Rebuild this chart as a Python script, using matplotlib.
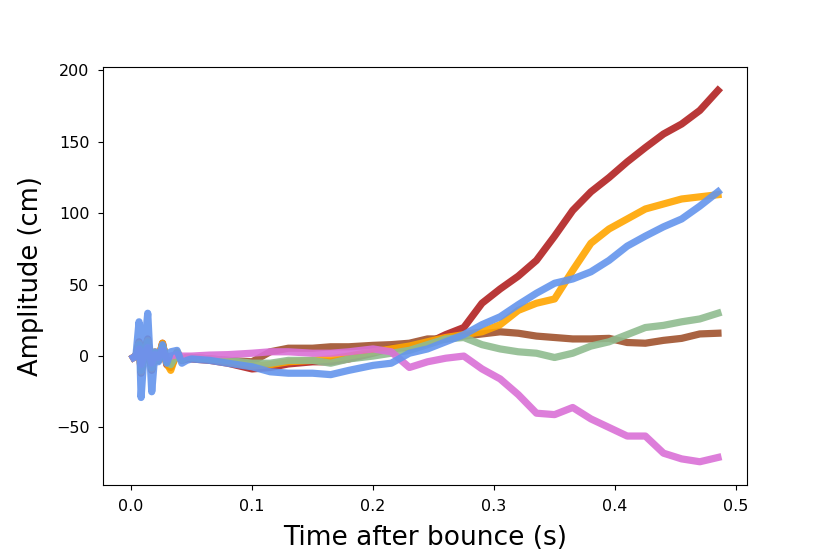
import numpy as np
import matplotlib
matplotlib.use("Agg")
import matplotlib.pyplot as plt

# time grid (s) shared by all runs
t = [0.002, 0.004, 0.0066, 0.0083, 0.011, 0.0138, 0.0171, 0.0198, 0.0226,
     0.026, 0.0295, 0.0328, 0.038, 0.042, 0.046, 0.05, 0.065, 0.08, 0.10,
     0.115, 0.13, 0.15, 0.165, 0.18, 0.20, 0.215, 0.23, 0.245, 0.26, 0.275,
     0.29, 0.305, 0.32, 0.335, 0.35, 0.365, 0.38, 0.395, 0.41, 0.425, 0.44,
     0.455, 0.47, 0.485]

# amplitude (cm) per run
red = [-1, 0, 10, -12, 3, 12, -10, 2, -3, 9, -6, -8, 2, -3, -2, -2, -3, -5, -9,
       -8, -5.5, -4, -4, -2, 2, 5.5, 6, 9, 15, 20, 37, 47, 56, 67, 84, 102, 115,
       125, 136, 146, 155.5, 162.5, 172, 186]
orange = [-1, 0, 9, -11, 3, 11, -9, 3, -2, 9, -5, -10, 3, -2, -1, -1, -2, -4, -7,
          -6, -4, -3, -2, 0, 3, 5, 7, 10, 13, 15, 17, 22, 32, 37, 40, 60, 79,
          89, 96, 103, 106.5, 110, 111.5, 113]
green = [-1, 0, 8, -10, 2, 10, -8, 2, -3, 7, -4, -6, 2, -3, -1, -1, -2, -3, -5,
         -5, -3, -3, -5, -2, 0, 2, 4, 8, 12, 13, 8, 5, 3, 2, -1, 2, 7,
         10, 15, 20, 21.5, 24, 26, 30]
brown = [-1, 0, 8, -10, 2, 10, -8, 2, -3, 8, -4, -7, 2, -3, -1, -1, -2, -3, -4,
         3, 5.5, 5.5, 6.5, 6.5, 7.5, 8, 9, 12, 12, 14, 15.5, 17, 16, 14, 13, 12, 12,
         12.4, 9.5, 9, 11, 12.4, 15.5, 16]
pink = [-1, 0, 5, -6, 1, 6, -5, 1, -1, 4, -2, 0, 1, 0, 0, 0, 0.7, 1, 2,
        3, 3, 2, 2, 3, 5, 3, -8, -4, -1.5, 0, -9, -16, -27, -40, -41, -36, -44,
        -50, -56, -56, -68, -72, -74, -71]
blue = [-1, 0, 24, -29, 5, 30, -25, 3, -4, 8, -5, 3, 4, -5, -3, -2, -3, -5, -7.5,
        -11, -12, -12, -13, -10, -6.5, -5, 2, 5, 10, 15, 22, 27.5, 36, 44, 51, 54, 59,
        67, 77, 84, 90.5, 96, 105, 115]

series = [
    (red, 'firebrick'),
    (brown, 'sienna'),
    (orange, 'orange'),
    (green, 'darkseagreen'),
    (pink, 'orchid'),
    (blue, 'cornflowerblue'),
]

fig = plt.figure(figsize=(8.3, 5.54), dpi=100)
ax = fig.add_axes([0.1245, 0.1245, 0.7755, 0.7545])

for vals, col in series:
    ax.plot(t, vals, color=col, lw=5.2, alpha=0.9, solid_joinstyle='round')

ax.set_xlim(-0.0229, 0.509)
ax.set_ylim(-90.3, 202.4)
ax.set_xticks([0.0, 0.1, 0.2, 0.3, 0.4, 0.5])
ax.set_yticks([-50, 0, 50, 100, 150, 200])
ax.tick_params(labelsize=11.5, pad=6.5)
ax.set_xlabel('Time after bounce (s)', fontsize=19, labelpad=8)
ax.set_ylabel('Amplitude (cm)', fontsize=18.5, labelpad=8.5)

plt.savefig('out.png', dpi=100)
plt.close(fig)
